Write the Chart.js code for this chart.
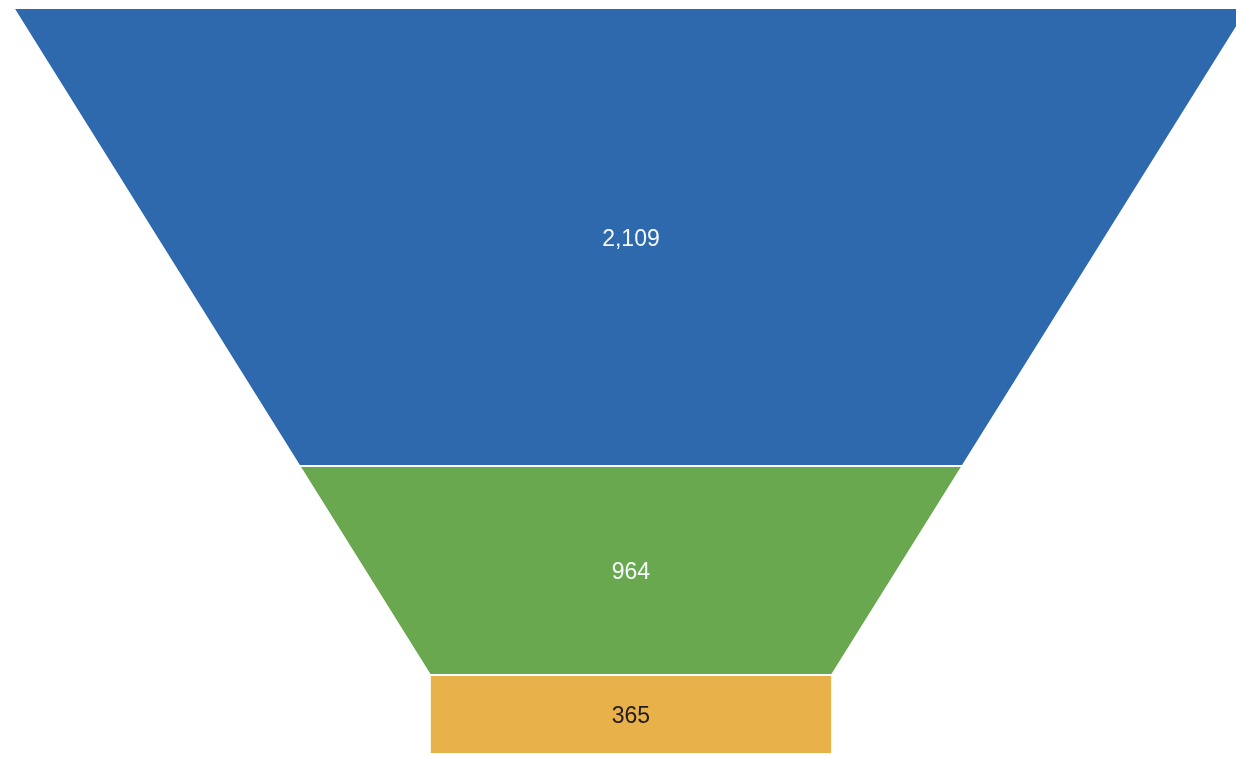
<!DOCTYPE html>
<html lang="en">
<head>
    <meta charset="UTF-8">
    <title>Funnel</title>
    <script src="https://cdn.jsdelivr.net/npm/chart.js"></script>
    <style>
        body {
            margin: 0;
            background-color: white;
        }

        #chart-container {
            width: 1236px;
            height: 757px;
        }
    </style>
</head>
<body>
    <div id="chart-container">
        <canvas id="funnelChart"></canvas>
    </div>
    <script>
        // funnel stages, top to bottom
        const stageLabels = ['Stage 1', 'Stage 2', 'Stage 3'];
        const stageValues = [2109, 964, 365];
        const stageColors = ['#2E69AE', '#6AA84F', '#E9B149'];
        const labelColors = ['#F4F8FC', '#F4F8FC', '#1E1E1E'];

        // funnel shape: width in % of the top, the neck is the last stage
        const topWidth = 100;
        const neckWidth = 32.6;

        const total = stageValues.reduce((a, b) => a + b, 0);
        const neckStart = total - stageValues[stageValues.length - 1];

        function widthAt(v) {
            if (v >= neckStart) return neckWidth;
            return topWidth - (topWidth - neckWidth) * v / neckStart;
        }

        const datasets = [];
        let start = 0;
        stageValues.forEach((value, i) => {
            const end = start + value;
            const wTop = widthAt(start) / 2;
            const wBot = widthAt(Math.min(end, neckStart)) / 2;
            const pts = [
                { x: -wTop, y: start },
                { x: -wBot, y: Math.min(end, neckStart) }
            ];
            if (end > neckStart && start < neckStart) {
                pts.push({ x: -neckWidth / 2, y: end });
                pts.push({ x: neckWidth / 2, y: end });
            } else if (start >= neckStart) {
                pts[1] = { x: -neckWidth / 2, y: end };
                pts.push({ x: neckWidth / 2, y: end });
                pts.push({ x: neckWidth / 2, y: start });
                pts[0] = { x: -neckWidth / 2, y: start };
            }
            if (start < neckStart) {
                pts.push({ x: wBot, y: Math.min(end, neckStart) });
                pts.push({ x: wTop, y: start });
            }
            datasets.push({
                label: stageLabels[i],
                data: pts,
                backgroundColor: stageColors[i],
                borderColor: '#FFFFFF',
                borderWidth: 2,
                pointRadius: 0,
                tension: 0,
                fill: { value: start }
            });
            start = end;
        });

        // value text in the middle of every stage
        const stageText = {
            id: 'stageText',
            afterDatasetsDraw(chart) {
                const ctx = chart.ctx;
                const xs = chart.scales.x;
                const ys = chart.scales.y;
                ctx.save();
                ctx.font = '23px "Liberation Sans", Arial, sans-serif';
                ctx.textAlign = 'center';
                ctx.textBaseline = 'middle';
                let acc = 0;
                stageValues.forEach((value, i) => {
                    ctx.fillStyle = labelColors[i];
                    const px = xs.getPixelForValue(0);
                    const py = ys.getPixelForValue(acc + value / 2) + 2;
                    ctx.fillText(value.toLocaleString('en-US'), px, py);
                    acc += value;
                });
                ctx.restore();
            }
        };

        const ctx = document.getElementById('funnelChart').getContext('2d');
        const chart = new Chart(ctx, {
            type: 'line',
            data: { datasets: datasets },
            options: {
                responsive: true,
                maintainAspectRatio: false,
                animation: false,
                layout: { padding: 0 },
                scales: {
                    x: {
                        type: 'linear',
                        display: false,
                        min: -51.13,
                        max: 49.03
                    },
                    y: {
                        type: 'linear',
                        display: false,
                        reverse: true,
                        min: -41.5,
                        max: 3452
                    }
                },
                plugins: {
                    legend: { display: false },
                    tooltip: { enabled: false }
                }
            },
            plugins: [stageText]
        });
    </script>
</body>
</html>
